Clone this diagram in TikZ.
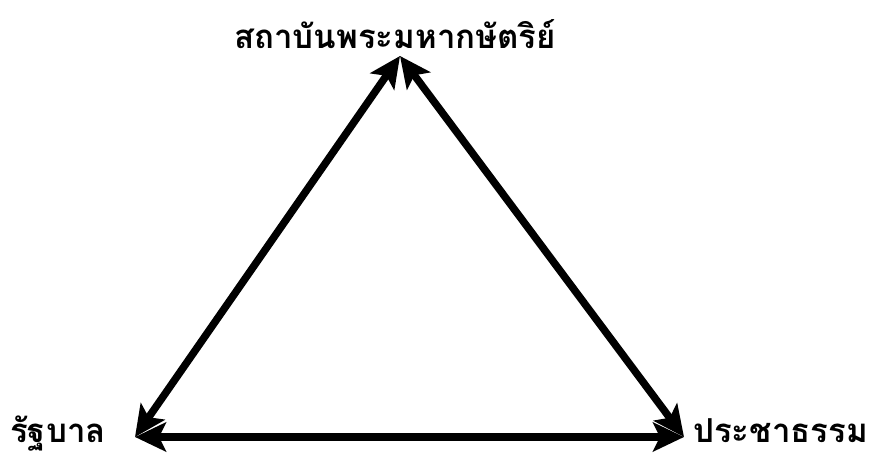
\documentclass[tikz,border=0pt]{standalone}
\usepackage{fontspec}
\newfontfamily\thaifont[Script=Thai]{Loma}
\usetikzlibrary{arrows.meta, positioning}

\begin{document}
\begin{tikzpicture}[
		x=1pt, y=1pt,
		% Estilos
		label_txt/.style = {font=\fontsize{33}{40}\selectfont\thaifont\bfseries, inner sep=0pt},
		link/.style = {line width=7.5pt, {Stealth[length=31pt, width=29pt, inset=7pt]}-{Stealth[length=31pt, width=29pt, inset=7pt]}},
		]
		\useasboundingbox (0,0) rectangle (871,457);
		
		% --- VERTICES ---
		\coordinate (king) at (400,401);
		\coordinate (govt) at (135,20);
		\coordinate (people) at (684,20);
		
		% --- TEXTOS ---
		\node [label_txt, anchor=base] (king_txt) at (395,408) {สถาบันพระมหากษัตริย์};
		\node [label_txt, anchor=base west] (govt_txt) at (10,14) {รัฐบาล};
		\node [label_txt, anchor=base west] (people_txt) at (693,14) {ประชาธรรม};
		
		% --- CONEXIONES ---
		\draw [link] (govt) -- (king);
		\draw [link] (king) -- (people);
		\draw [link] (govt) -- (people);
		
	\end{tikzpicture}
\end{document}
